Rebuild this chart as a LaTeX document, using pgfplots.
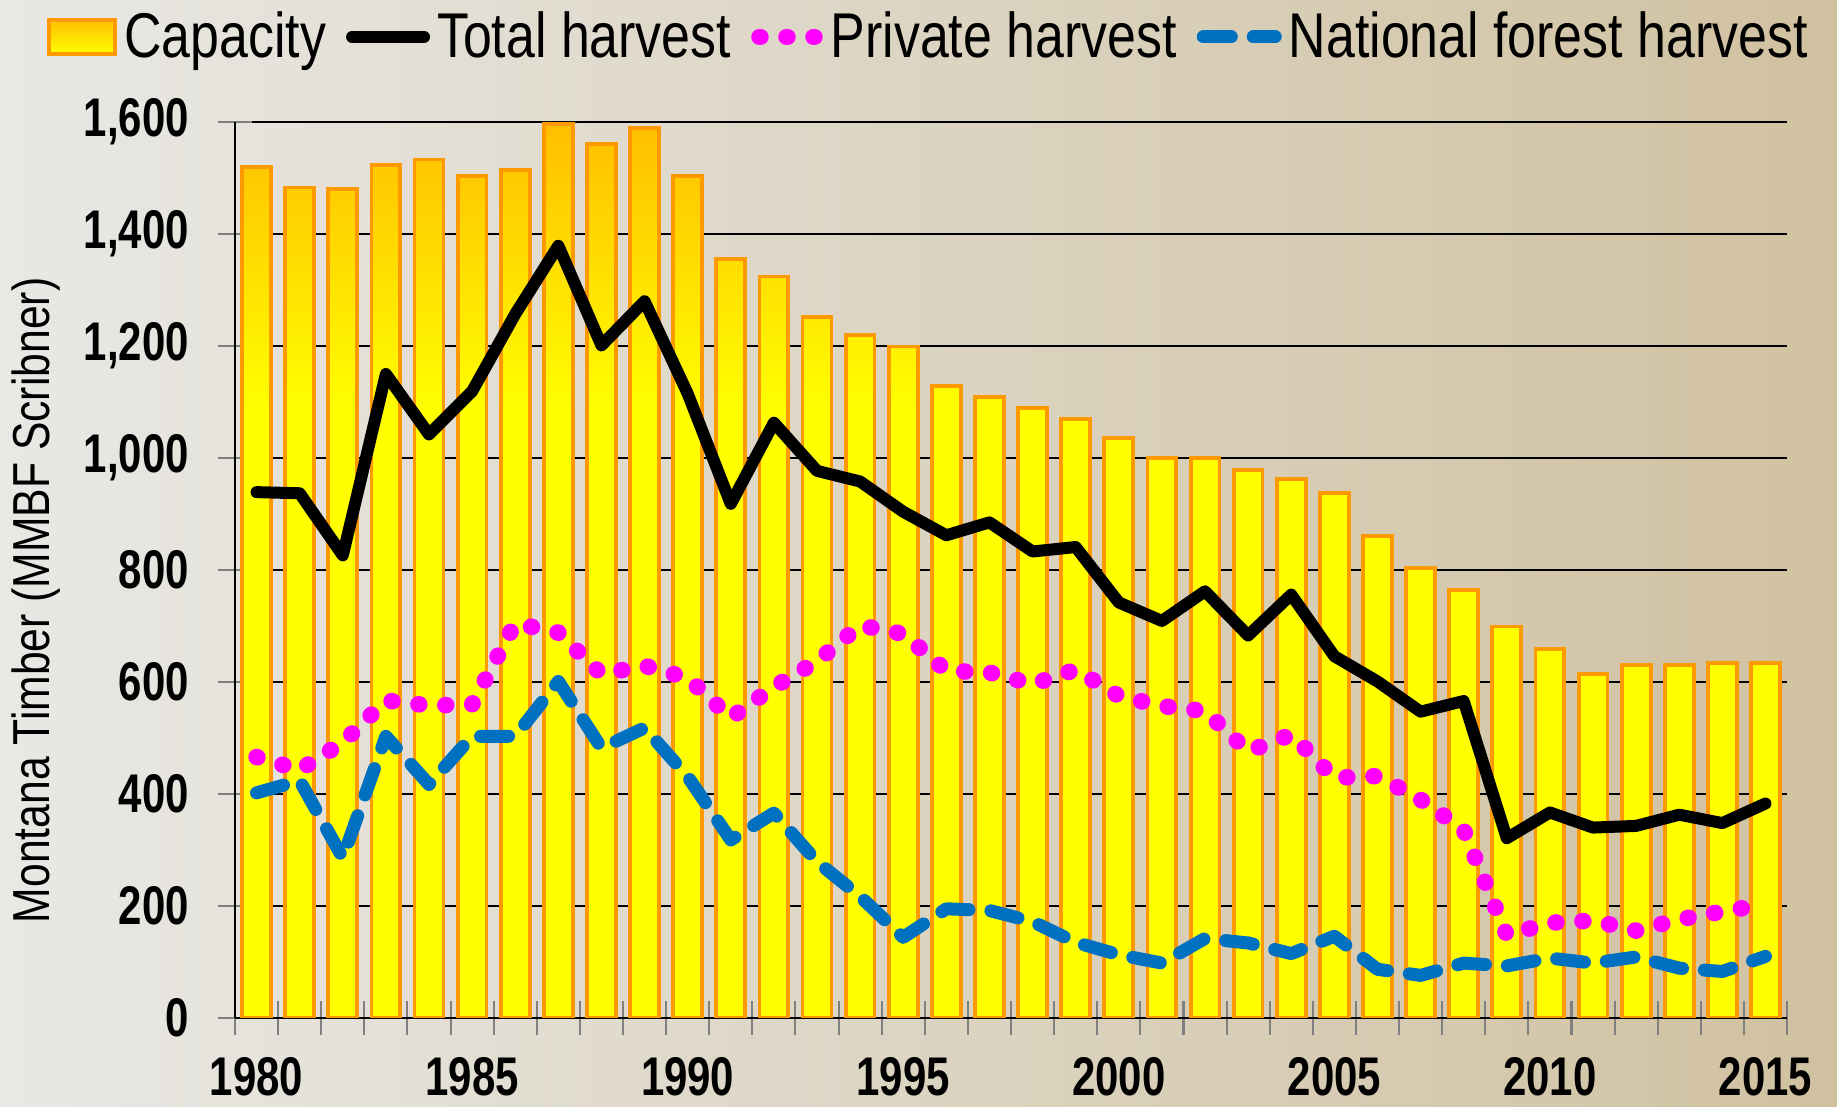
\documentclass[border=0pt]{standalone}
\usepackage{pgfplots}
\pgfplotsset{compat=1.18}
\usepackage{fontspec}
\setmainfont{Liberation Sans}[FakeStretch=0.82]
\newfontfamily\tickfont{Liberation Sans}[FakeStretch=0.77]
\definecolor{bgL}{RGB}{233,232,229}
\definecolor{bgR}{RGB}{208,193,160}
\definecolor{barTop}{RGB}{255,190,0}
\definecolor{barEdge}{RGB}{255,153,0}
\definecolor{barYel}{RGB}{255,255,0}
\definecolor{nfBlue}{RGB}{0,112,192}
\definecolor{pvMag}{RGB}{255,0,255}
\pgfdeclareverticalshading{barshade}{100bp}{color(0bp)=(barYel); color(25bp)=(barYel); color(59bp)=(barYel); color(75bp)=(barTop); color(100bp)=(barTop)}

\pgfplotstableread{
year cap total private national
1980 1519 939 466 402
1981 1483 937 443 424
1982 1481 826 492 286
1983 1523 1150 567 503
1984 1533 1042 558 417
1985 1504 1119 560 503
1986 1515 1257 705 503
1987 1596 1379 688 601
1988 1561 1201 614 482
1989 1590 1280 629 518
1990 1504 1115 607 431
1991 1356 918 536 318
1992 1324 1063 591 366
1993 1251 977 637 279
1994 1220 958 701 217
1995 1199 904 686 144
1996 1128 862 620 195
1997 1109 885 617 192
1998 1090 833 596 172
1999 1069 841 622 135
2000 1036 742 575 113
2001 1000 709 557 98
2002 1000 762 548 142
2003 979 683 476 134
2004 962 756 506 115
2005 937 646 429 146
2006 860 601 432 87
2007 803 547 390 76
2008 764 566 336 98
2009 699 321 148 93
2010 659 367 170 107
2011 615 340 174 98
2012 630 343 156 109
2013 630 363 176 89
2014 634 348 190 83
2015 634 383 203 110
}\datatable

\begin{document}
\begin{tikzpicture}[x=1cm,y=1cm]
\fill[left color=bgL, right color=bgR] (-2.35,-0.89) rectangle (16.02,10.18);
\begin{axis}[
  at={(0,0)}, anchor=south west,
  scale only axis, width=15.52cm, height=8.96cm,
  xmin=1979.5, xmax=2015.5, ymin=0, ymax=1600,
  axis x line*=bottom, axis y line*=left,
  axis line style={black, line width=0.6pt},
  ytick={0,200,...,1600},
  yticklabels={0,200,400,600,800,{1,000},{1,200},{1,400},{1,600}},
  xtick={1980,1985,...,2015},
  xticklabels={1980,1985,1990,1995,2000,2005,2010,2015},
  minor xtick={1979.5,1980.5,...,2015.5},
  tick align=center,
  major tick length=0.34cm, minor tick length=0.34cm,
  tick style={gray, line width=0.6pt},
  major x tick style={draw=none},
  ymajorgrids, grid style={black, line width=0.55pt},
  ticklabel style={font=\tickfont\fontsize{15.5}{17}\selectfont\bfseries, inner sep=0pt},
  yticklabel style={anchor=east, xshift=-0.285cm},
  xticklabel style={anchor=north, yshift=-0.22cm},
  ylabel={Montana Timber (MMBF Scribner)},
  ylabel style={font=\fontsize{14.8}{16}\selectfont, at={(axis description cs:-0.128,0.466)}, anchor=center},
  legend columns=-1,
  legend style={draw=none, fill=none, at={(0.4485,1.095)}, anchor=center,
    font=\fontsize{18}{20}\selectfont,
    /tikz/every even column/.append style={column sep=0.13cm}},
  legend cell align=left,
]
\addplot[ybar, bar width=0.67, draw=barEdge, line width=1.1pt,
  shade, shading=barshade,
  legend image code/.code={\draw[barEdge, line width=1.1pt, top color=barTop, bottom color=barYel] (0cm,-0.17cm) rectangle (0.66cm,0.17cm);}]
  table[x=year, y=cap] {\datatable};
\addlegendentry{Capacity}
\addplot[black, line width=0.12cm, line join=round, line cap=round,
  legend image code/.code={\draw[black, line width=0.12cm, line cap=round] (0cm,0cm) -- (0.72cm,0cm);}]
  table[x=year, y=total] {\datatable};
\addlegendentry{Total harvest}
\addplot[pvMag, line width=0.165cm, line cap=round, dash pattern=on 0.01cm off 0.26cm,
  legend image code/.code={\draw[pvMag, line width=0.165cm, line cap=round, dash pattern=on 0.01cm off 0.26cm] (0.02cm,0cm) -- (0.58cm,0cm);}]
  table[x=year, y=private] {\datatable};
\addlegendentry{Private harvest}
\addplot[nfBlue, line width=0.13cm, line cap=round, line join=round, dash pattern=on 0.28cm off 0.22cm,
  legend image code/.code={\draw[nfBlue, line width=0.13cm, line cap=round, dash pattern=on 0.28cm off 0.22cm] (0cm,0cm) -- (0.72cm,0cm);}]
  table[x=year, y=national] {\datatable};
\addlegendentry{National forest harvest}
\end{axis}
\pgfresetboundingbox
\path (-2.35,-0.89) rectangle (16.02,10.18);
\end{tikzpicture}
\end{document}
